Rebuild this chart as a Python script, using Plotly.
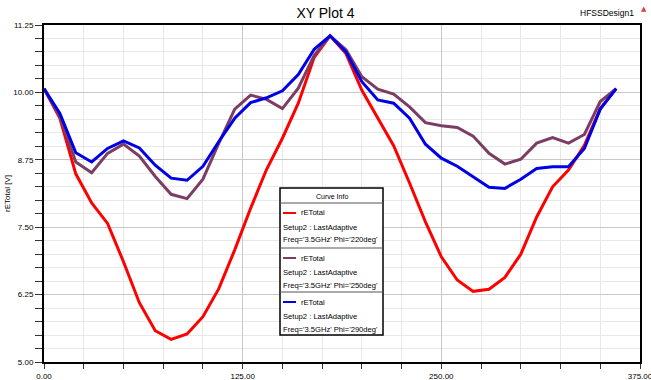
import plotly.graph_objects as go

angles = list(range(0, 361, 10))

phi220 = [10.07, 9.52, 8.49, 7.95, 7.57, 6.86, 6.10, 5.58, 5.42, 5.52, 5.84, 6.36, 7.08,
          7.85, 8.57, 9.15, 9.80, 10.65, 11.05, 10.72, 10.04, 9.52, 9.01, 8.32, 7.60,
          6.95, 6.52, 6.31, 6.35, 6.57, 7.00, 7.69, 8.25, 8.56, 9.02, 9.70, 10.07]
phi250 = [10.07, 9.55, 8.71, 8.51, 8.87, 9.04, 8.82, 8.44, 8.11, 8.03, 8.39, 9.06, 9.69,
          9.95, 9.87, 9.70, 10.08, 10.69, 11.05, 10.79, 10.29, 10.06, 9.97, 9.73, 9.44,
          9.38, 9.35, 9.19, 8.87, 8.67, 8.76, 9.06, 9.16, 9.06, 9.22, 9.83, 10.07]
phi290 = [10.07, 9.61, 8.88, 8.71, 8.96, 9.10, 8.97, 8.65, 8.41, 8.37, 8.63, 9.09, 9.52,
          9.81, 9.90, 10.03, 10.33, 10.80, 11.05, 10.75, 10.20, 9.86, 9.80, 9.52, 9.04,
          8.78, 8.63, 8.44, 8.24, 8.22, 8.39, 8.59, 8.62, 8.62, 8.96, 9.69, 10.07]

series_names = ["rETotal", "rETotal", "rETotal"]
series_setups = ["Setup2 : LastAdaptive"] * 3
series_freqs = ["Freq='3.5GHz' Phi='220deg'", "Freq='3.5GHz' Phi='250deg'",
                "Freq='3.5GHz' Phi='290deg'"]
series_colors = ["#ff0000", "#7b3d63", "#0000e6"]
series_data = [phi220, phi250, phi290]

FONT = "Liberation Sans, Arial"

W, H = 651, 380
L, R, T, B = 44, 11, 25, 18
PW, PH = W - L - R, H - T - B


def px(x):
    return (x - L) / PW


def py(y):
    return (H - B - y) / PH


fig = go.Figure()
for name, ys, col in zip(series_names, series_data, series_colors):
    fig.add_trace(go.Scatter(x=angles, y=ys, mode="lines", name=name,
                             line=dict(color=col, width=3), showlegend=False))

shapes = []
annotations = []

# legend box
bx0, bx1, by0, by1 = 280, 383, 188, 335
shapes.append(dict(type="rect", xref="paper", yref="paper", x0=px(bx0), x1=px(bx1),
                   y0=py(by1), y1=py(by0), line=dict(color="black", width=1.5),
                   fillcolor="white", layer="above"))
annotations.append(dict(text="Curve Info", xref="paper", yref="paper", x=px((bx0 + bx1) / 2),
                        y=py(196), showarrow=False, font=dict(size=7, family=FONT, color="black"),
                        xanchor="center", yanchor="middle"))
seps = [203, 248, 292]
for s in seps:
    shapes.append(dict(type="line", xref="paper", yref="paper", x0=px(bx0), x1=px(bx1),
                       y0=py(s), y1=py(s), line=dict(color="#555555", width=1), layer="above"))
for i in range(3):
    top = seps[i]
    r1, r2, r3 = top + 10, top + 24, top + 37
    shapes.append(dict(type="line", xref="paper", yref="paper", x0=px(283), x1=px(296),
                       y0=py(r1), y1=py(r1), line=dict(color=series_colors[i], width=2),
                       layer="above"))
    for txt, xx, yy in [(series_names[i], 299, r1), (series_setups[i], 281, r2),
                        (series_freqs[i], 281, r3)]:
        annotations.append(dict(text=txt, xref="paper", yref="paper", x=px(xx), y=py(yy),
                                showarrow=False, xanchor="left", yanchor="middle",
                                font=dict(size=7.6, family=FONT, color="black")))

annotations.append(dict(text="HFSSDesign1", xref="paper", yref="paper", x=px(636), y=py(13),
                        showarrow=False, xanchor="right", yanchor="middle",
                        font=dict(size=8.5, family=FONT, color="black")))
annotations.append(dict(text="▲", xref="paper", yref="paper", x=px(644), y=py(9),
                        showarrow=False, xanchor="center", yanchor="middle",
                        font=dict(size=7, family="DejaVu Sans", color="#e04040")))

fig.update_layout(
    width=W, height=H,
    margin=dict(l=L, r=R, t=T, b=B),
    paper_bgcolor="white", plot_bgcolor="white",
    title=dict(text="XY Plot 4", x=0.5, xanchor="center", y=1 - 13 / H, yanchor="middle",
               font=dict(size=14, family=FONT, color="black")),
    font=dict(family=FONT, size=8, color="black"),
    shapes=shapes, annotations=annotations,
    xaxis=dict(range=[0, 375], tick0=0, dtick=125, tickformat=".2f", automargin=False,
               ticklabeloverflow="allow",
               showgrid=True, gridcolor="#c8c8c8", gridwidth=1,
               showline=True, linecolor="black", linewidth=2, mirror=True,
               ticks="outside", ticklen=5, tickcolor="#333333",
               minor=dict(dtick=25, showgrid=True, gridcolor="#e8e8e8", ticks="outside",
                          ticklen=5, tickcolor="#333333"),
               zeroline=False, tickfont=dict(size=8, family=FONT)),
    yaxis=dict(range=[5, 11.25], tick0=5, dtick=1.25, tickformat=".2f", automargin=False,
               ticklabeloverflow="allow",
               showgrid=True, gridcolor="#c8c8c8", gridwidth=1,
               showline=True, linecolor="black", linewidth=2, mirror=True,
               ticks="outside", ticklen=7, tickcolor="#333333",
               minor=dict(dtick=0.25, showgrid=True, gridcolor="#e8e8e8", ticks="outside",
                          ticklen=7, tickcolor="#333333"),
               zeroline=False, tickfont=dict(size=8, family=FONT),
               title=dict(text="rETotal [V]", font=dict(size=8, family=FONT), standoff=2)),
)

fig.write_html("out.html", config={"displayModeBar": False},
               post_script="document.body.style.margin='0';document.body.style.padding='0';")
